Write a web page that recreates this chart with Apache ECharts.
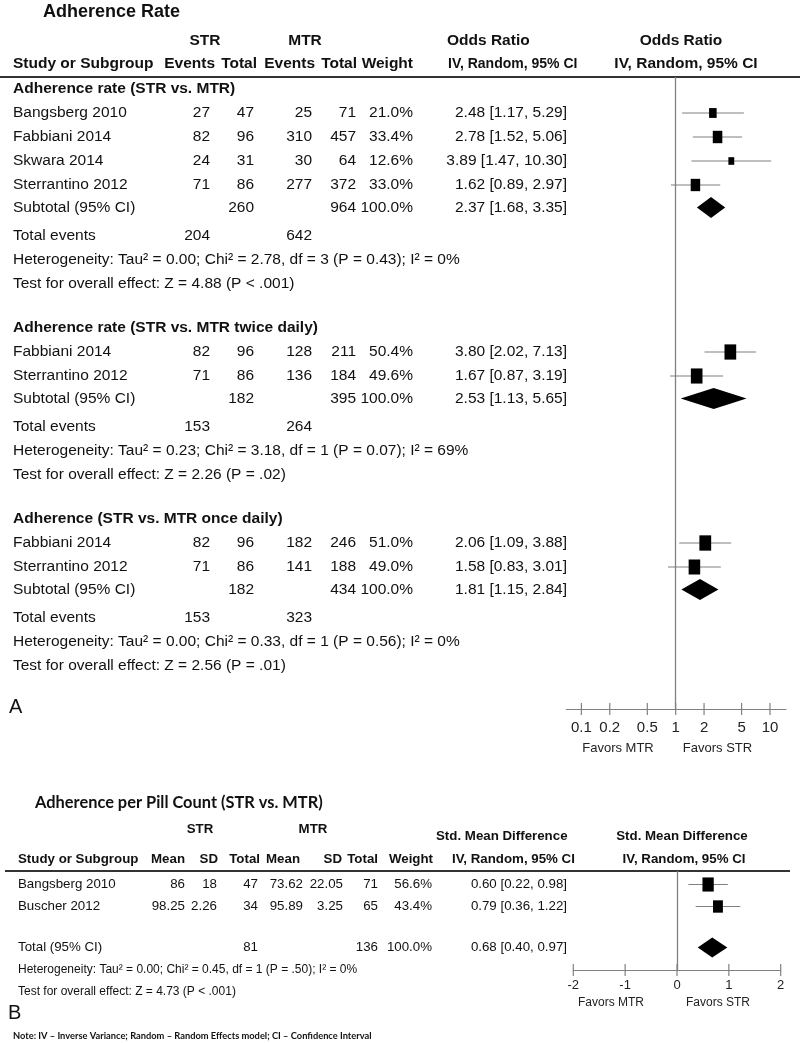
<!DOCTYPE html>
<html><head><meta charset="utf-8">
<script src="https://cdn.jsdelivr.net/npm/echarts@6/dist/echarts.min.js"></script>
<style>html,body{margin:0;padding:0;background:#fff}#c{width:800px;height:1043px}</style>
</head><body><div id="c"></div>
<script>
// ---------------- Panel A data ----------------
const titleA = 'Adherence Rate';
const groupTitlesA = ['Adherence rate (STR vs. MTR)', 'Adherence rate (STR vs. MTR twice daily)', 'Adherence (STR vs. MTR once daily)'];
const studiesA = [['Bangsberg 2010', 'Fabbiani 2014', 'Skwara 2014', 'Sterrantino 2012'], ['Fabbiani 2014', 'Sterrantino 2012'], ['Fabbiani 2014', 'Sterrantino 2012']];
const strEventsA = [[27, 82, 24, 71], [82, 71], [82, 71]];
const strTotalA = [[47, 96, 31, 86], [96, 86], [96, 86]];
const mtrEventsA = [[25, 310, 30, 277], [128, 136], [182, 141]];
const mtrTotalA = [[71, 457, 64, 372], [211, 184], [246, 188]];
const weightA = [[21.0, 33.4, 12.6, 33.0], [50.4, 49.6], [51.0, 49.0]];
const orA = [[2.48, 2.78, 3.89, 1.62], [3.80, 1.67], [2.06, 1.58]];
const orLowA = [[1.17, 1.52, 1.47, 0.89], [2.02, 0.87], [1.09, 0.83]];
const orHighA = [[5.29, 5.06, 10.30, 2.97], [7.13, 3.19], [3.88, 3.01]];
const subStrTotalA = [260, 182, 182];
const subMtrTotalA = [964, 395, 434];
const subOrA = [2.37, 2.53, 1.81];
const subLowA = [1.68, 1.13, 1.15];
const subHighA = [3.35, 5.65, 2.84];
const totEvStrA = [204, 153, 153];
const totEvMtrA = [642, 264, 323];
const heteroA = ['Heterogeneity: Tau² = 0.00; Chi² = 2.78, df = 3 (P = 0.43); I² = 0%', 'Heterogeneity: Tau² = 0.23; Chi² = 3.18, df = 1 (P = 0.07); I² = 69%', 'Heterogeneity: Tau² = 0.00; Chi² = 0.33, df = 1 (P = 0.56); I² = 0%'];
const overallA = ['Test for overall effect: Z = 4.88 (P < .001)', 'Test for overall effect: Z = 2.26 (P = .02)', 'Test for overall effect: Z = 2.56 (P = .01)'];
const tickValuesA = [0.1, 0.2, 0.5, 1, 2, 5, 10];
const favorsA = ['Favors MTR', 'Favors STR'];

// ---------------- Panel B data ----------------
const titleB = 'Adherence per Pill Count (STR vs. MTR)';
const studiesB = ['Bangsberg 2010', 'Buscher 2012'];
const strMeanB = ['86', '98.25'];
const strSdB = ['18', '2.26'];
const strTotalB = [47, 34];
const mtrMeanB = ['73.62', '95.89'];
const mtrSdB = ['22.05', '3.25'];
const mtrTotalB = [71, 65];
const weightB = [56.6, 43.4];
const smdB = [0.60, 0.79];
const smdLowB = [0.22, 0.36];
const smdHighB = [0.98, 1.22];
const totStrTotalB = 81;
const totMtrTotalB = 136;
const totSmdB = 0.68;
const totLowB = 0.40;
const totHighB = 0.97;
const heteroB = 'Heterogeneity: Tau² = 0.00; Chi² = 0.45, df = 1 (P = .50); I² = 0%';
const overallB = 'Test for overall effect: Z = 4.73 (P < .001)';
const tickValuesB = [-2, -1, 0, 1, 2];
const favorsB = ['Favors MTR', 'Favors STR'];
const noteText = 'Note: IV – Inverse Variance; Random – Random Effects model; CI – Confidence Interval';

// ---------------- layout ----------------
const FAM = '"Liberation Sans", Arial, sans-serif';
const FA = '15.5px ' + FAM, FAB = 'bold 15.5px ' + FAM;
const FB = '13.3px ' + FAM, FBB = 'bold 13.3px ' + FAM, FBS = '12px ' + FAM;
const CAL = 'Lato, "Open Sans", sans-serif';
const INK = '#111';
const GREY = '#808080';
const gA = {top: 77, bottom: 709, left: 566.3, right: 786.0};
const gB = {top: 871, bottom: 970, left: 573.3, right: 780.7};
const LOGMIN = -1.16, LOGMAX = 1.17;

const graphics = [];
function txt(text, x, y, font, align, color) {
  align = align || 'left';
  graphics.push({type: 'text', x: x, y: y, silent: true,
    style: {text: String(text), font: font, fill: color || INK, align: align, verticalAlign: 'middle', textAlign: align, textVerticalAlign: 'middle'}});
}
function hline(x1, x2, y, w, c) {
  graphics.push({type: 'line', silent: true, shape: {x1: x1, y1: y, x2: x2, y2: y}, style: {stroke: c, lineWidth: w}});
}
const f2 = v => v.toFixed(2);
const ci = (m, l, h) => f2(m) + ' [' + f2(l) + ', ' + f2(h) + ']';
const pct = v => v.toFixed(1) + '%';

// Panel A header
txt(titleA, 43, 12.5, 'bold 18px ' + FAM);
txt('STR', 205, 41, FAB, 'center');
txt('MTR', 305, 41, FAB, 'center');
txt('Odds Ratio', 447, 41, FAB);
txt('Odds Ratio', 681, 41, FAB, 'center');
txt('Study or Subgroup', 13, 64, FAB);
const hdrA = [['Events', 215], ['Total', 257], ['Events', 315], ['Total', 357], ['Weight', 413]];
hdrA.forEach(h => txt(h[0], h[1], 64, FAB, 'right'));
txt('IV, Random, 95% CI', 448, 64, 'bold 14px ' + FAM);
txt('IV, Random, 95% CI', 686, 64, FAB, 'center');
hline(0, 800, gA.top, 2, '#333');

const colA = {name: 13, se: 210, st: 254, me: 312, mt: 356, w: 413, ci: 567};
const studyPtsA = [], diaPtsA = [];
let y = 89;
groupTitlesA.forEach((gt, gi) => {
  txt(gt, colA.name, y, FAB);
  studiesA[gi].forEach((nm, i) => {
    y += 24;
    txt(nm, colA.name, y, FA);
    txt(strEventsA[gi][i], colA.se, y, FA, 'right');
    txt(strTotalA[gi][i], colA.st, y, FA, 'right');
    txt(mtrEventsA[gi][i], colA.me, y, FA, 'right');
    txt(mtrTotalA[gi][i], colA.mt, y, FA, 'right');
    txt(pct(weightA[gi][i]), colA.w, y, FA, 'right');
    txt(ci(orA[gi][i], orLowA[gi][i], orHighA[gi][i]), colA.ci, y, FA, 'right');
    studyPtsA.push([Math.log10(orA[gi][i]), Math.log10(orLowA[gi][i]), Math.log10(orHighA[gi][i]), y - gA.top, weightA[gi][i]]);
  });
  y += 22.5;
  txt('Subtotal (95% CI)', colA.name, y, FA);
  txt(subStrTotalA[gi], colA.st, y, FA, 'right');
  txt(subMtrTotalA[gi], colA.mt, y, FA, 'right');
  txt('100.0%', colA.w, y, FA, 'right');
  txt(ci(subOrA[gi], subLowA[gi], subHighA[gi]), colA.ci, y, FA, 'right');
  diaPtsA.push([Math.log10(subOrA[gi]), Math.log10(subLowA[gi]), Math.log10(subHighA[gi]), y - gA.top]);
  y += 28;
  txt('Total events', colA.name, y, FA);
  txt(totEvStrA[gi], colA.se, y, FA, 'right');
  txt(totEvMtrA[gi], colA.me, y, FA, 'right');
  y += 24;
  txt(heteroA[gi], colA.name, y, FA);
  y += 24;
  txt(overallA[gi], colA.name, y, FA);
  y += 44.5;
});
txt('A', 9, 707, '20px ' + FAM);
txt(favorsA[0], 618, 748, '13px ' + FAM, 'center', '#222');
txt(favorsA[1], 717.5, 748, '13px ' + FAM, 'center', '#222');

// Panel B
txt(titleB, 35, 803, 'bold 16.4px ' + CAL);
txt('STR', 200, 829, FBB, 'center');
txt('MTR', 313, 829, FBB, 'center');
txt('Std. Mean Difference', 436, 836, FBB);
txt('Std. Mean Difference', 682, 836, FBB, 'center');
txt('Study or Subgroup', 18, 859, FBB);
const hdrB = [['Mean', 185], ['SD', 218], ['Total', 260], ['Mean', 300], ['SD', 342], ['Total', 378], ['Weight', 433]];
hdrB.forEach(h => txt(h[0], h[1], 859, FBB, 'right'));
txt('IV, Random, 95% CI', 452, 859, FBB);
txt('IV, Random, 95% CI', 684, 859, FBB, 'center');
hline(5, 790, gB.top, 2, '#333');

const colB = {name: 18, sm: 185, ss: 217, st: 258, mm: 303, ms: 343, mt: 378, w: 432, ci: 567};
const studyPtsB = [];
let yb = 884.5;
studiesB.forEach((nm, i) => {
  txt(nm, colB.name, yb, FB);
  txt(strMeanB[i], colB.sm, yb, FB, 'right');
  txt(strSdB[i], colB.ss, yb, FB, 'right');
  txt(strTotalB[i], colB.st, yb, FB, 'right');
  txt(mtrMeanB[i], colB.mm, yb, FB, 'right');
  txt(mtrSdB[i], colB.ms, yb, FB, 'right');
  txt(mtrTotalB[i], colB.mt, yb, FB, 'right');
  txt(pct(weightB[i]), colB.w, yb, FB, 'right');
  txt(ci(smdB[i], smdLowB[i], smdHighB[i]), colB.ci, yb, FB, 'right');
  studyPtsB.push([smdB[i], smdLowB[i], smdHighB[i], yb - gB.top, weightB[i]]);
  yb += 22;
});
yb += 41 - 22;
txt('Total (95% CI)', colB.name, yb, FB);
txt(totStrTotalB, colB.st, yb, FB, 'right');
txt(totMtrTotalB, colB.mt, yb, FB, 'right');
txt('100.0%', colB.w, yb, FB, 'right');
txt(ci(totSmdB, totLowB, totHighB), colB.ci, yb, FB, 'right');
const diaPtsB = [[totSmdB, totLowB, totHighB, yb - gB.top]];
yb += 22;
txt(heteroB, colB.name, yb, FBS);
yb += 22;
txt(overallB, colB.name, yb, FBS);
txt('B', 8, 1013, '20px ' + FAM);
txt(favorsB[0], 611, 1003, '12px ' + FAM, 'center', '#222');
txt(favorsB[1], 718, 1003, '12px ' + FAM, 'center', '#222');
txt(noteText, 13, 1036, 'bold 9.3px ' + CAL);

// ---------------- series ----------------
function squareItem(k, hr) {
  return function (params, api) {
    const yv = api.value(3);
    const c = api.coord([api.value(0), yv]);
    const lo = api.coord([api.value(1), yv]);
    const hi = api.coord([api.value(2), yv]);
    const w = k * Math.sqrt(api.value(4));
    const h = w * hr;
    return {type: 'group', children: [
      {type: 'line', shape: {x1: lo[0], y1: c[1], x2: hi[0], y2: c[1]}, style: {stroke: GREY, lineWidth: 1.2}},
      {type: 'rect', shape: {x: c[0] - w / 2, y: c[1] - h / 2, width: w, height: h}, style: {fill: '#000'}}
    ]};
  };
}
function diamondItem(half) {
  return function (params, api) {
    const yv = api.value(3);
    const c = api.coord([api.value(0), yv]);
    const lo = api.coord([api.value(1), yv]);
    const hi = api.coord([api.value(2), yv]);
    return {type: 'polygon', shape: {points: [[lo[0], c[1]], [c[0], c[1] - half], [hi[0], c[1]], [c[0], c[1] + half]]}, style: {fill: '#000'}};
  };
}
// tick marks crossing the axis line (drawn at axis values through the axis scale)
function tickItem(half) {
  return function (params, api) {
    const p = api.coord([api.value(0), api.value(1)]);
    return {type: 'line', shape: {x1: p[0], y1: p[1] - half, x2: p[0], y2: p[1] + half}, style: {stroke: GREY, lineWidth: 1.2}};
  };
}
const refLine = v => ({silent: true, symbol: 'none', label: {show: false}, lineStyle: {color: GREY, width: 1.3, type: 'solid'}, data: [{xAxis: v}]});

const logTicksA = tickValuesA.map(v => Math.log10(v));
const fmtA = v => {
  let best = tickValuesA[0];
  tickValuesA.forEach(t => { if (Math.abs(Math.log10(t) - v) < Math.abs(Math.log10(best) - v)) best = t; });
  return String(best);
};
const hA = gA.bottom - gA.top, hB = gB.bottom - gB.top;

const option = {
  animation: false,
  backgroundColor: '#fff',
  grid: [
    {left: gA.left, width: gA.right - gA.left, top: gA.top, height: hA},
    {left: gB.left, width: gB.right - gB.left, top: gB.top, height: hB}
  ],
  xAxis: [
    {gridIndex: 0, type: 'value', position: 'bottom', min: LOGMIN, max: LOGMAX,
      axisLine: {show: true, onZero: false, lineStyle: {color: GREY, width: 1.2}},
      axisTick: {show: false},
      axisLabel: {show: true, customValues: logTicksA, formatter: fmtA, margin: 11, color: '#222', fontSize: 15, fontFamily: FAM, showMinLabel: true, showMaxLabel: true},
      splitLine: {show: false}},
    {gridIndex: 1, type: 'value', position: 'bottom', min: -2, max: 2, interval: 1,
      axisLine: {show: true, onZero: false, lineStyle: {color: GREY, width: 1.2}},
      axisTick: {show: false},
      axisLabel: {show: true, margin: 9, color: '#222', fontSize: 13, fontFamily: FAM, showMinLabel: true, showMaxLabel: true},
      splitLine: {show: false}}
  ],
  yAxis: [
    {gridIndex: 0, type: 'value', min: 0, max: hA, inverse: true, show: false},
    {gridIndex: 1, type: 'value', min: 0, max: hB, inverse: true, show: false}
  ],
  series: [
    {type: 'custom', xAxisIndex: 0, yAxisIndex: 0, clip: false, renderItem: squareItem(1.65, 1.3), data: studyPtsA, markLine: refLine(0), silent: true},
    {type: 'custom', xAxisIndex: 0, yAxisIndex: 0, clip: false, renderItem: diamondItem(10.5), data: diaPtsA, silent: true},
    {type: 'custom', xAxisIndex: 0, yAxisIndex: 0, clip: false, renderItem: tickItem(6), data: logTicksA.map(v => [v, hA]), silent: true},
    {type: 'custom', xAxisIndex: 1, yAxisIndex: 1, clip: false, renderItem: squareItem(1.5, 1.25), data: studyPtsB, markLine: refLine(0), silent: true},
    {type: 'custom', xAxisIndex: 1, yAxisIndex: 1, clip: false, renderItem: diamondItem(10), data: diaPtsB, silent: true},
    {type: 'custom', xAxisIndex: 1, yAxisIndex: 1, clip: false, renderItem: tickItem(6), data: tickValuesB.map(v => [v, hB]), silent: true}
  ],
  graphic: {elements: graphics}
};
const chart = echarts.init(document.getElementById('c'), null, {renderer: 'canvas'});
chart.setOption(option);
</script></body></html>
